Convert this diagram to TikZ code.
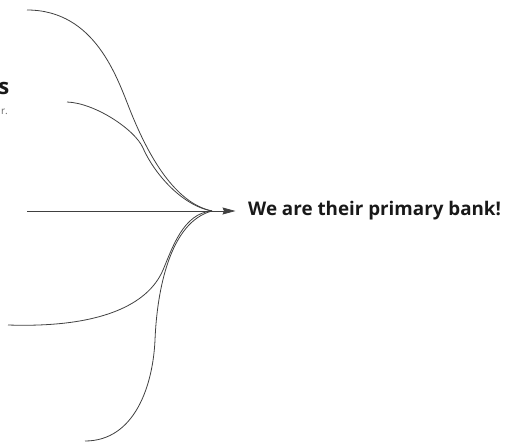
\documentclass[tikz,border=0pt]{standalone}
\usepackage{fontspec}
\setmainfont{Open Sans}
\usetikzlibrary{arrows.meta}
\begin{document}
\begin{tikzpicture}[x=1pt,y=-1pt,
  conn/.style={draw=black!75, line width=0.8pt},
  tipstyle/.style={-{Stealth[length=13pt,width=7pt,inset=1.5pt]}},
  lbl/.style={font=\fontsize{18.8}{22}\selectfont\bfseries, text=black!90, inner ysep=0pt, inner xsep=12.5pt, anchor=base west},
  frag/.style={inner sep=0pt, anchor=base east}]
\useasboundingbox (0,0) rectangle (529,443);
\coordinate (s1) at (27,10);
\coordinate (s2) at (67,102);
\coordinate (s3) at (27,211);
\coordinate (s4) at (8,325);
\coordinate (s5) at (85,441);
\coordinate (hub) at (212,211);
\node[lbl] (label) at (235.5,215.7) {We are their primary bank!};
\node[frag, font=\fontsize{22}{26}\selectfont\bfseries, text=black!90] (ts) at (9.5,95) {s};
\node[frag, font=\fontsize{10}{12}\selectfont, text=black!60] (tr) at (8,115) {r.};
\draw[conn] (s1) .. controls (95,10) and (117,77.5) .. (130,110) .. controls (148.5,156.5) and (175,203) .. (hub);
\draw[conn] (s2) .. controls (95,103) and (135,129.6) .. (143,148) .. controls (153,171) and (180,205) .. (hub);
\draw[conn,tipstyle] (s3) -- (s3 -| label.west);
\draw[conn] (s4) .. controls (100,328) and (148,305) .. (163,270) .. controls (172,249) and (183,213) .. (hub);
\draw[conn] (s5) .. controls (135,441) and (153,385) .. (155,340) .. controls (157,290) and (170,222) .. (hub);
\end{tikzpicture}
\end{document}
